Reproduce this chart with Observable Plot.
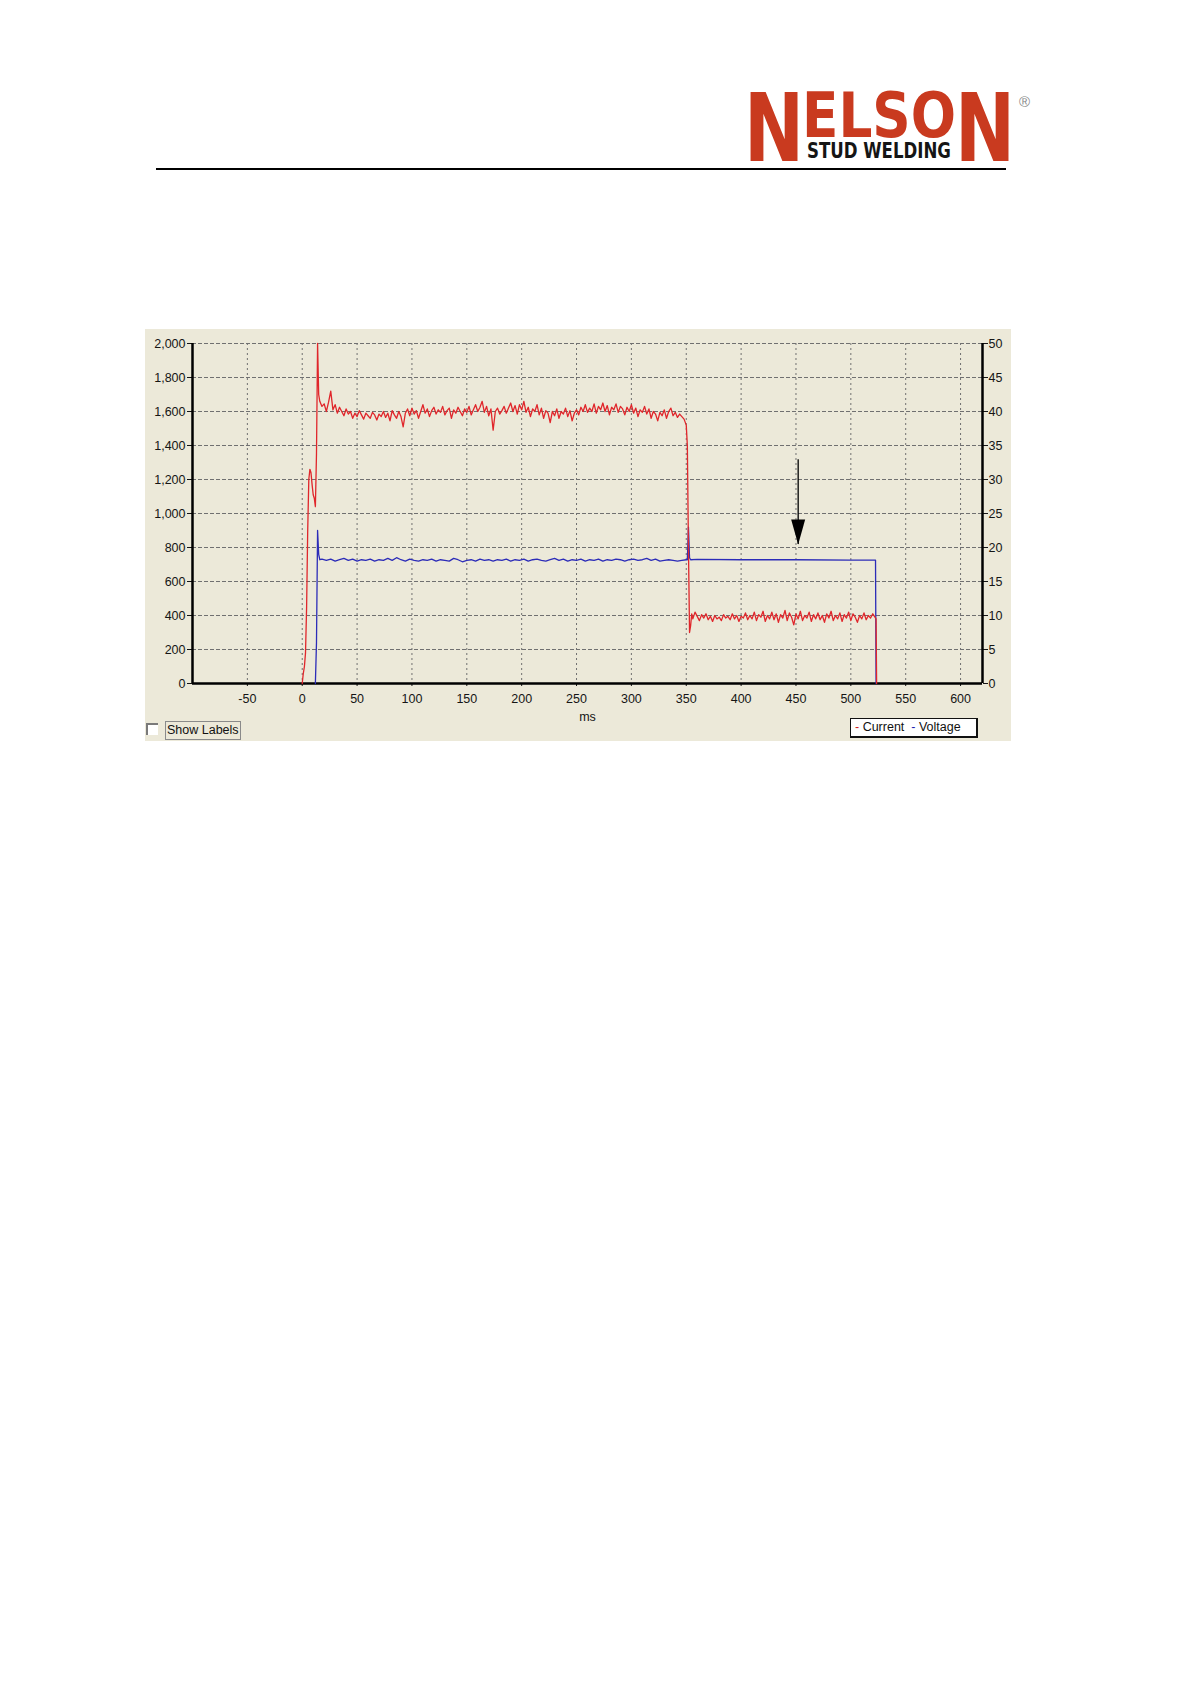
<!DOCTYPE html>
<html><head><meta charset="utf-8">
<script src="https://cdn.jsdelivr.net/npm/d3@7"></script>
<script src="https://cdn.jsdelivr.net/npm/@observablehq/plot@0.6"></script>
<style>
html,body{margin:0;padding:0;background:#fff;}
body{width:1190px;height:1684px;position:relative;font-family:"Liberation Sans",Arial,sans-serif;overflow:hidden;}
#rule{position:absolute;left:156px;top:168px;width:850px;height:2px;background:#000;}
#panel{position:absolute;left:145px;top:329px;width:866px;height:412px;background:#ECE9D9;}
#chart{position:absolute;left:0;top:0;}
#cb{position:absolute;left:1px;top:394px;width:10px;height:10px;border-top:2px solid #7a7a7a;border-left:2px solid #7a7a7a;background:#fff;}
#sl{position:absolute;left:20px;top:392px;height:17px;padding:0 1px;border:1px solid #8a8a8a;font-size:12.5px;line-height:17px;color:#111;}
#leg{position:absolute;left:705px;top:389px;width:121px;height:17px;border:1px solid #111;border-right-width:2px;border-bottom-width:2px;background:#fff;font-size:12.5px;line-height:17px;color:#111;padding-left:4px;white-space:nowrap;}
</style></head>
<body>
<svg width="1190" height="185" style="position:absolute;left:0;top:0">
  <g font-family="Liberation Sans Narrow, DejaVu Sans Condensed, Liberation Sans, sans-serif" font-weight="bold" fill="#C93A1F">
    <text transform="translate(744,161) scale(0.84,1)" font-size="95">N</text>
    <text x="802" y="137" font-size="62" textLength="154" lengthAdjust="spacingAndGlyphs">ELSO</text>
    <text transform="translate(955,161) scale(0.84,1)" font-size="95">N</text>
  </g>
  <text x="807" y="158" font-family="Liberation Sans Narrow, DejaVu Sans Condensed, Liberation Sans, sans-serif" font-weight="bold" font-size="20.5" textLength="144" lengthAdjust="spacingAndGlyphs" fill="#151515">STUD WELDING</text>
  <text x="1019" y="107" font-family="Liberation Sans, sans-serif" font-size="15" fill="#8a8a8a">®</text>
</svg>
<div id="rule"></div>
<div id="panel">
  <div id="chart"></div>
  <div id="cb"></div>
  <div id="sl">Show Labels</div>
  <div id="leg"><span style="color:#d02020">-</span> Current &nbsp;<span style="color:#2020b0">-</span> Voltage</div>
</div>
<script>
// ---- axis ticks ----
const xTicks = [-50,0,50,100,150,200,250,300,350,400,450,500,550,600];
const yTicksCurrent = [0,200,400,600,800,1000,1200,1400,1600,1800,2000];
const voltTicks = [0,5,10,15,20,25,30,35,40,45,50];

// ---- Current (A) ----
const currentRiseMs = [0,1,2,3,4,5,6,7,8,9,10,11,12,13,14,15];
const currentRiseA  = [0,60,100,180,450,900,1200,1260,1240,1170,1110,1090,1040,1350,2000,1700];
// sampled every 2 ms from 16 ms to 350 ms
const currentHighStart = 16;
const currentHighA = [1660,1630,1645,1600,1655,1720,1610,1640,1590,1625,1600,1575,1615,1585,1600,1560,1590,1570,1605,1580,1555,1590,1575,1560,1595,1580,1550,1585,1570,1600,1565,1590,1545,1605,1580,1560,1600,1570,1510,1590,1615,1575,1620,1585,1605,1560,1600,1640,1590,1615,1570,1605,1625,1585,1610,1595,1630,1580,1605,1620,1560,1610,1590,1625,1600,1575,1615,1595,1630,1580,1610,1640,1600,1625,1660,1595,1630,1575,1615,1490,1600,1620,1585,1605,1630,1590,1620,1650,1600,1635,1585,1640,1610,1660,1595,1625,1570,1615,1600,1640,1580,1620,1560,1605,1590,1535,1600,1575,1615,1560,1600,1585,1620,1570,1605,1545,1590,1610,1580,1625,1600,1640,1595,1620,1600,1645,1590,1630,1610,1650,1600,1635,1580,1625,1610,1645,1595,1630,1615,1580,1625,1600,1640,1590,1620,1570,1610,1595,1630,1585,1615,1560,1600,1585,1545,1595,1575,1610,1560,1600,1620,1575,1595,1565,1585,1570,1555,1520];
const currentDropMs = [351,352,353,354,355];
const currentDropA  = [1400,800,300,340,410];
// sampled every 2 ms from 356 ms to 522 ms
const currentLowStart = 356;
const currentLowA = [380,420,395,370,405,385,410,375,395,365,400,380,390,370,405,385,395,375,410,380,400,365,395,385,415,375,400,380,420,370,405,390,425,365,400,380,420,375,410,360,405,385,430,370,415,390,345,410,380,425,370,400,385,420,365,405,380,415,375,400,360,410,385,425,370,400,380,415,365,405,385,420,370,410,390,360,400,380,415,375,400,385,410,390];
const currentEndMs = [523,523.5];
const currentEndA  = [380,0];

// ---- Voltage (V) ----
const voltRiseMs = [12,13,14,15,16];
const voltRiseV  = [0,6,22.5,19,18.2];
// sampled every 4 ms from 18 ms to 350 ms
const voltHighStart = 18;
const voltHighV = [18.3,18.1,18.3,18.0,18.2,18.4,18.1,18.3,18.0,18.2,18.1,18.3,18.0,18.2,18.1,18.4,18.1,18.5,18.2,18.0,18.3,18.1,18.0,18.2,18.1,18.3,18.0,18.2,18.1,18.0,18.4,18.2,17.9,18.1,18.2,18.0,18.3,18.1,18.2,18.0,18.2,18.1,18.3,18.0,18.2,18.1,18.3,18.0,18.2,18.3,18.1,18.0,18.2,18.4,18.1,18.3,18.0,18.2,18.1,18.3,18.0,18.2,18.1,18.3,18.0,18.2,18.1,18.3,18.2,18.0,18.2,18.3,18.1,18.2,18.4,18.1,18.3,18.0,18.1,18.2,18.1,18.0,18.1,18.2];
const voltTailMs = [351,352,353,354,360,400,450,500,522.5,523];
const voltTailV  = [18.2,23,18.5,18.2,18.25,18.2,18.2,18.15,18.15,0];

// arrow annotation (ms, A)
const arrowNote = [{ms:452, from:1316, to:818}];

// ---- build tables ----
const current = [];
currentRiseMs.forEach((t,i)=>current.push({t, a:currentRiseA[i]}));
currentHighA.forEach((a,i)=>current.push({t:currentHighStart+2*i, a}));
currentDropMs.forEach((t,i)=>current.push({t, a:currentDropA[i]}));
currentLowA.forEach((a,i)=>current.push({t:currentLowStart+2*i, a}));
currentEndMs.forEach((t,i)=>current.push({t, a:currentEndA[i]}));

const voltage = [];
voltRiseMs.forEach((t,i)=>voltage.push({t, v:voltRiseV[i]}));
voltHighV.forEach((v,i)=>voltage.push({t:voltHighStart+4*i, v}));
voltTailMs.forEach((t,i)=>voltage.push({t, v:voltTailV[i]}));

const vScale = 2000/50; // right axis volts -> left axis amps

const arrowHead = {draw(ctx){ ctx.moveTo(-7,-25); ctx.lineTo(7,-25); ctx.lineTo(0,0); ctx.closePath(); }};

const chart = Plot.plot({
  width: 866, height: 412,
  marginLeft: 47, marginRight: 29, marginTop: 14, marginBottom: 58,
  style: {background:"transparent", fontFamily:"'Liberation Sans', Arial, sans-serif", fontSize:"12.5px", color:"#151515", overflow:"visible"},
  x: {domain:[-100,620]},
  y: {domain:[0,2000]},
  marks: [
    Plot.gridX(xTicks, {stroke:"#707070", strokeOpacity:1, strokeDasharray:"2,3"}),
    Plot.gridY(yTicksCurrent, {stroke:"#707070", strokeOpacity:1, strokeDasharray:"4,2"}),
    Plot.axisX(xTicks, {tickSize:3, tickPadding:8, tickFormat:d=>String(d), label:"ms", labelAnchor:"center", labelArrow:"none", labelOffset:37}),
    Plot.axisY(yTicksCurrent, {anchor:"left", tickSize:5, tickPadding:2, tickFormat:d3.format(","), label:null}),
    Plot.axisY(voltTicks.map(v=>v*vScale), {anchor:"right", tickSize:5, tickPadding:1, tickFormat:d=>String(d/vScale), label:null}),
    Plot.ruleX([-100,620], {stroke:"#000", strokeWidth:2.5}),
    Plot.ruleY([0], {stroke:"#000", strokeWidth:2.5}),
    Plot.line(voltage, {x:"t", y:d=>d.v*vScale, stroke:"#2C2CB8", strokeWidth:1.3}),
    Plot.line(current, {x:"t", y:"a", stroke:"#E0262B", strokeWidth:1.3}),
    Plot.ruleX(arrowNote, {x:"ms", y1:"from", y2:"to", stroke:"#000", strokeWidth:1.3}),
    Plot.dot(arrowNote, {x:"ms", y:"to", symbol:arrowHead, r:5, fill:"#000", stroke:"none"})
  ]
});
document.getElementById("chart").appendChild(chart);
</script>
</body></html>
